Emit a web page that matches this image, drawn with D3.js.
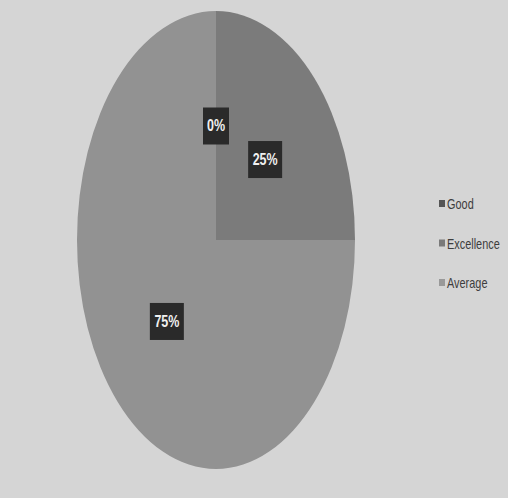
<!DOCTYPE html>
<html><head><meta charset="utf-8">
<script src="https://cdn.jsdelivr.net/npm/d3@7"></script>
<style>body{margin:0;background:#d4d4d4;}svg{display:block;}</style>
</head><body>
<svg id="chart" width="508" height="498"></svg>
<script>
const categories = ["Good", "Excellence", "Average"];
const values = [25, 0, 75];
const sliceColors = ["#7b7b7b", "#8a8a8a", "#929292"];
const legendColors = ["#555555", "#7a7a7a", "#999999"];

const W = 508, H = 498;
const cx = 216, cy = 240, rx = 139, ry = 229;
const svg = d3.select("#chart");
svg.append("rect").attr("width", W).attr("height", H).attr("fill", "#d5d5d5");

const data = categories.map((c, i) => ({cat: c, value: values[i], color: sliceColors[i], lc: legendColors[i]}));
const total = d3.sum(values);
const pie = d3.pie().value(d => d.value).sort((a, b) => a.value - b.value);
const arcs = pie(data);
const R = 100;
const arc = d3.arc().innerRadius(0).outerRadius(R);

const g = svg.append("g").attr("transform", `translate(${cx},${cy}) scale(${rx / R},${ry / R})`);
g.selectAll("path").data(arcs).join("path")
  .attr("d", arc).attr("fill", d => d.data.color);

const lbl = svg.append("g").attr("transform", `translate(${cx},${cy})`);
const fmt = d => Math.round(d.data.value / total * 100) + "%";
const items = lbl.selectAll("g").data(arcs).join("g")
  .attr("transform", d => {
    const [x, y] = arc.centroid(d);
    return `translate(${x * rx / R},${y * ry / R})`;
  });
items.append("rect")
  .attr("x", d => -(fmt(d).length * 8 + 10) / 2)
  .attr("y", -18).attr("height", 37)
  .attr("width", d => fmt(d).length * 8 + 10)
  .attr("fill", "#2a2a2a");
items.append("text")
  .attr("text-anchor", "middle").attr("dy", "0.36em")
  .attr("transform", "scale(0.78,1)")
  .attr("fill", "#f0f0f0")
  .style("font-family", "'Liberation Sans',sans-serif")
  .style("font-weight", "bold").style("font-size", "16px")
  .text(fmt);

const legend = svg.append("g").attr("transform", "translate(439,204)");
const li = legend.selectAll("g").data(data).join("g")
  .attr("transform", (d, i) => `translate(0,${i * 39.5})`);
li.append("rect").attr("x", 0).attr("y", -4).attr("width", 6).attr("height", 7).attr("fill", d => d.lc);
li.append("text").attr("dy", "0.36em")
  .attr("transform", "translate(8,0) scale(0.78,1)")
  .attr("fill", "#3d3d3d")
  .style("font-family", "'Liberation Sans',sans-serif")
  .style("font-size", "14px")
  .text(d => d.cat);
</script>
</body></html>
